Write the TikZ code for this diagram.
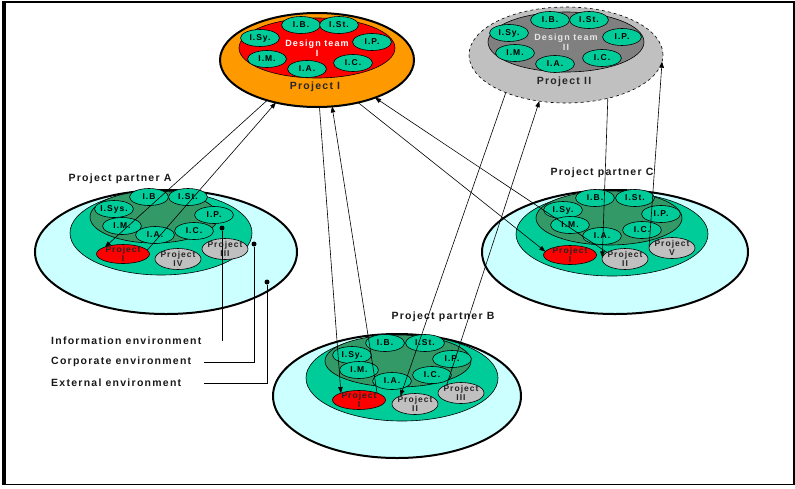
\documentclass[tikz,border=0pt]{standalone}
\usepackage{fontspec}
\setmainfont{Liberation Sans}
\newfontfamily\spacedfont[LetterSpace=12]{Liberation Sans}
\usepackage{tikz}
\usetikzlibrary{arrows.meta, shapes.geometric, positioning}

\definecolor{orangeP}{HTML}{FF9900}
\definecolor{redT}{HTML}{FF0000}
\definecolor{greenM}{HTML}{00CC99}
\definecolor{greenI}{HTML}{339966}
\definecolor{cyanE}{HTML}{CCFFFF}
\definecolor{grayP}{HTML}{C0C0C0}
\definecolor{grayT}{HTML}{808080}

\begin{document}
\begin{tikzpicture}[
  x=1pt, y=-1pt,
  envring/.style={
    ellipse, draw, line width=2pt, fill=cyanE,
    inner sep=0pt, outer sep=0pt
  },
  corpring/.style={
    ellipse, draw, line width=0.6pt, fill=greenM,
    inner sep=0pt, outer sep=0pt
  },
  inforing/.style={
    ellipse, draw, line width=0.6pt, fill=greenI,
    inner sep=0pt, outer sep=0pt
  },
  member/.style={
    ellipse, draw, line width=0.6pt, fill=greenM,
    minimum width=39pt, minimum height=17pt,
    inner sep=0pt, outer sep=0pt,
    font=\spacedfont\bfseries\fontsize{8.5}{9}\selectfont
  },
  projred/.style={
    ellipse, draw, line width=0.6pt, fill=redT,
    minimum width=53pt, minimum height=19pt,
    inner sep=0pt, outer sep=0pt
  },
  projgrey/.style={
    ellipse, draw, line width=0.6pt, fill=grayP,
    minimum width=46pt, minimum height=21pt,
    inner sep=0pt, outer sep=0pt
  },
  projtext/.style={
    align=center, inner sep=0pt, text=black!85,
    font=\spacedfont\bfseries\fontsize{8.5}{9.5}\selectfont
  },
  bigring/.style={
    ellipse, draw, minimum width=194pt, minimum height=94pt,
    inner sep=0pt, outer sep=0pt
  },
  teamring/.style={
    ellipse, draw, line width=0.6pt,
    minimum width=156pt, minimum height=60pt,
    inner sep=0pt, outer sep=0pt, align=center,
    font=\spacedfont\bfseries\fontsize{9}{10}\selectfont
  },
  bigname/.style={
    inner sep=0pt, text=black!85,
    font=\spacedfont\bfseries\fontsize{10.5}{12}\selectfont
  },
  partnername/.style={
    inner sep=0pt, text=black!90,
    font=\spacedfont\bfseries\fontsize{10.5}{12}\selectfont
  },
  envdot/.style={
    circle, fill=black, minimum size=5pt, inner sep=0pt
  },
  arr/.style={
    -{Triangle[length=6pt,width=4.5pt]},
    line width=0.6pt
  }
]
\useasboundingbox (0,0) rectangle (795,488);

% Frame
\draw[line width=1.5pt] (4,2) rectangle (794,484.5);
\draw[line width=4pt] (4,1.25) -- (4,485.25);

% Project I
\node[bigring, fill=orangeP, line width=2pt] (pI) at (317,60) {};
\node[teamring, fill=redT, text=white] (dtI) at (317,48) {Design team\\I};
\node[member] (pIB) at (301,25) {I.B.};
\node[member] (pISt) at (339,25) {I.St.};
\node[member] (pISy) at (260,38) {I.Sy.};
\node[member] (pIP) at (372,42) {I.P.};
\node[member] (pIM) at (267,59) {I.M.};
\node[member] (pIA) at (307,69) {I.A.};
\node[member] (pIC) at (353,63) {I.C.};
\node[bigname] (tpI) at (315,87) {Project I};

% Project II
\node[bigring, fill=grayP, dashed, line width=0.6pt, minimum height=96pt] (pII) at (566,55) {};
\node[teamring, fill=grayT, text=black!10] (dtII) at (566,42) {Design team\\II};
\node[member] (qIB) at (550,20) {I.B.};
\node[member] (qISt) at (589,20) {I.St.};
\node[member] (qISy) at (509,33) {I.Sy.};
\node[member] (qIP) at (622,37) {I.P.};
\node[member] (qIM) at (515,53) {I.M.};
\node[member] (qIA) at (555,64) {I.A.};
\node[member] (qIC) at (602,58) {I.C.};
\node[bigname] (tpII) at (564,82) {Project II};

% Project partner A
\node[envring, minimum width=262pt, minimum height=124pt] (envA) at (166,252) {};
\node[corpring, minimum width=182pt, minimum height=84pt] (corpA) at (161,233) {};
\node[inforing, minimum width=128pt, minimum height=52pt] (infoA) at (154,217) {};
\node[member] (aIB) at (149,197) {I.B};
\node[member] (aISt) at (188,197) {I.St.};
\node[member] (aISys) at (114,209) {I.Sys.};
\node[member] (aIP) at (214,215) {I.P.};
\node[member] (aIM) at (122,226) {I.M.};
\node[member] (aIA) at (155,235) {I.A.};
\node[member] (aIC) at (194,231) {I.C.};
\node[projred, label={[projtext]center:{Project\\I}}] (aPI) at (123,254) {};
\node[projgrey, label={[projtext]center:{Project\\IV}}] (aPIV) at (178,259) {};
\node[projgrey, label={[projtext]center:{Project\\III}}] (aPIII) at (225,249) {};
\node[partnername] (tA) at (120,179) {Project partner A};

% Project partner C
\node[envring, minimum width=266pt, minimum height=124pt] (envC) at (615,252) {};
\node[corpring, minimum width=192pt, minimum height=84pt] (corpC) at (612,234) {};
\node[inforing, minimum width=146pt, minimum height=54pt] (infoC) at (609,218) {};
\node[member] (cIB) at (595,198) {I.B.};
\node[member] (cISt) at (635,198) {I.St.};
\node[member] (cISy) at (563,210) {I.Sy.};
\node[member] (cIP) at (661,214) {I.P.};
\node[member] (cIM) at (570,225) {I.M.};
\node[member] (cIA) at (602,236) {I.A.};
\node[member] (cIC) at (642,230) {I.C.};
\node[projred, label={[projtext]center:{Project\\I}}] (cPI) at (570,255) {};
\node[projgrey, label={[projtext]center:{Project\\II}}] (cPII) at (625,259) {};
\node[projgrey, label={[projtext]center:{Project\\V}}] (cPV) at (672,248) {};
\node[partnername] (tC) at (602,173) {Project partner C};

% Project partner B
\node[envring, minimum width=248pt, minimum height=124pt] (envB) at (397,396) {};
\node[corpring, minimum width=192pt, minimum height=86pt] (corpB) at (402,378) {};
\node[inforing, minimum width=146pt, minimum height=52pt] (infoB) at (398,361) {};
\node[member] (bIB) at (385,343) {I.B.};
\node[member] (bISt) at (425,343) {I.St.};
\node[member] (bISy) at (352,355) {I.Sy.};
\node[member] (bIP) at (452,359) {I.P.};
\node[member] (bIM) at (359,370) {I.M.};
\node[member] (bIA) at (392,381) {I.A.};
\node[member] (bIC) at (432,375) {I.C.};
\node[projred, label={[projtext]center:{Project\\I}}] (bPI) at (359,400) {};
\node[projgrey, label={[projtext]center:{Project\\II}}] (bPII) at (415,404) {};
\node[projgrey, label={[projtext]center:{Project\\III}}] (bPIII) at (461,393) {};
\node[partnername] (tB) at (443,317) {Project partner B};

% Environment legend
\node[envdot] (dInfo) at (222,228) {};
\node[envdot] (dCorp) at (254,244) {};
\node[envdot] (dExt) at (267,282) {};
\node[partnername, anchor=west] (lInfo) at (51,341) {Information environment};
\node[partnername, anchor=west] (lCorp) at (51,362) {Corporate environment};
\node[partnername, anchor=west] (lExt) at (51,383) {External environment};
\draw[line width=0.6pt] (dInfo) -- (dInfo |- lInfo);
\draw[line width=0.6pt] (dCorp) |- ([xshift=13pt]lCorp.east);
\draw[line width=0.6pt] (dExt) |- ([xshift=23pt]lExt.east);

% Links between projects and partners
\draw[arr] (pI.219) -- (aPI.159);
\draw[arr] (aPI.9) -- (pI.226);
\draw[arr] (pI.273) -- (bPI.159);
\draw[arr] (bPI.21) -- (pI.288);
\draw[arr] (pI.314) -- (cPI.172);
\draw[arr] (cPII.160) -- (pI.327);
\draw[arr] (pII.212) -- (bPII.151);
\draw[arr] (bPIII.150) -- (pII.240);
\draw[arr] (pII.314) -- (cPII.176);
\draw[arr] (cPV.178) -- (pII.356);

\end{tikzpicture}
\end{document}
